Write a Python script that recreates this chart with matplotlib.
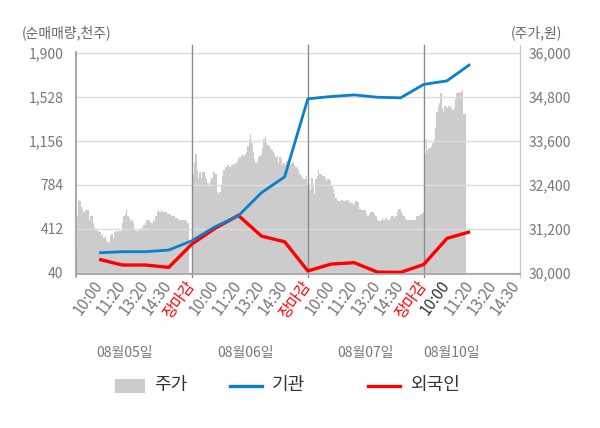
import matplotlib
matplotlib.use("Agg")
import matplotlib.pyplot as plt
from matplotlib.patches import Rectangle
from matplotlib.lines import Line2D
import numpy as np

plt.rcParams['font.family'] = ['Noto Sans CJK KR', 'DejaVu Sans']

# ---------------- data ----------------
tick_labels = ["10:00", "11:20", "13:20", "14:30", "장마감",
               "10:00", "11:20", "13:20", "14:30", "장마감",
               "10:00", "11:20", "13:20", "14:30", "장마감",
               "10:00", "11:20", "13:20", "14:30"]
day_labels = ["08월05일", "08월06일", "08월07일", "08월10일"]
series_names = ["주가", "기관", "외국인"]

# net buying (thousand shares) at each labelled time
inst = [209, 218, 218, 232, 311, 430, 522, 718, 853,
        1514, 1533, 1547, 1527, 1522, 1636, 1666, 1806]
foreign = [153, 105, 105, 85, 283, 416, 526, 350, 302,
           55, 113, 125, 45, 43, 110, 331, 387]

# intraday price (won)
price_d1 = [30650, 31550, 32000, 31950, 31800, 31750, 31650, 31700, 31700, 31700,
            31450, 31550, 31550, 31350, 31250, 31200, 31150, 31150, 31100, 31000,
            31050, 30950, 31000, 30900, 30850, 30800, 31000, 31050, 30950, 31100,
            31150, 31100, 31150, 31150, 31150, 31350, 31550, 31600, 31750, 31550,
            31500, 31400, 31450, 31350, 31200, 31150, 31150, 31150, 31200, 31250,
            31200, 31300, 31350, 31450, 31450, 31450, 31350, 31350, 31450, 31400,
            31550, 31650, 31700, 31650, 31700, 31650, 31650, 31650, 31650, 31600,
            31600, 31600, 31550, 31550, 31550, 31500, 31500, 31450, 31450, 31450,
            31450, 31450, 31450, 31400, 31350, 31250]
price_d2 = [32650, 32700, 33000, 33250, 32800, 32600, 32750, 32600, 32750, 32750,
            32650, 32550, 32450, 32400, 32500, 32600, 32750, 32750, 32700, 32200,
            32150, 32200, 32400, 32650, 32800, 32900, 32900, 32950, 32900, 32900,
            32950, 33000, 32950, 33000, 33050, 33100, 33150, 33200, 33250, 33200,
            33250, 33300, 33450, 33650, 33800, 33550, 33300, 33100, 33000, 33050,
            33150, 33200, 33250, 33400, 33650, 33750, 33550, 33500, 33450, 33400,
            33350, 33300, 33250, 33150, 33200, 33000, 33150, 33100, 32950, 33000,
            32950, 33050, 33050, 33050, 32950, 33000, 33050, 32950, 32900, 32850,
            32800, 32700, 32650, 32600, 32550, 32550, 32650, 32400]
price_d3 = [32350, 32350, 32250, 32600, 32350, 32150, 32550, 32650, 32800, 32700,
            32700, 32650, 32650, 32600, 32500, 32550, 32550, 32500, 32400, 32300,
            32150, 32050, 32000, 31950, 31950, 32000, 32000, 31950, 31950, 32000,
            32000, 31900, 31950, 31900, 31850, 31900, 31950, 31950, 31900, 31750,
            31700, 31700, 31700, 31700, 31600, 31550, 31600, 31650, 31650, 31650,
            31600, 31550, 31450, 31400, 31400, 31450, 31500, 31450, 31500, 31500,
            31450, 31450, 31500, 31550, 31550, 31500, 31550, 31650, 31750, 31750,
            31650, 31600, 31550, 31500, 31450, 31450, 31450, 31450, 31450, 31450,
            31450, 31450, 31550, 31550, 31550, 31600, 31600, 31650]
price_d4 = [33000, 33250, 33650, 33350, 33400, 33400, 33450, 33550, 33650, 33950,
            34400, 34550, 34650, 34900, 34500, 34400, 34550, 34550, 34500, 34550,
            34500, 34550, 34450, 34500, 34750, 34900, 34950, 34900, 34950, 35000,
            34350, 34350, 34350]

# ---------------- layout ----------------
W, H = 600, 428
fig = plt.figure(figsize=(W / 100, H / 100), dpi=100)
L, R, T, B = 76, 520, 51.7, 274
ax = fig.add_axes([L / W, 1 - B / H, (R - L) / W, (B - T) / H])
ax2 = ax.twinx()
ax.set_zorder(ax2.get_zorder() + 1)
ax.patch.set_visible(False)
ax2.patch.set_facecolor('#f4f4f4')

xmax = 19.15
ax.set_xlim(0, xmax)
ax2.set_xlim(0, xmax)
ax.set_ylim(29, 1913)
ax2.set_ylim(29964, 36041)

GREY, BLUE, RED = '#cccccc', '#0a7fcd', '#ff0000'

# price area
step = (4 / 3) / 23.19
for d, pr in enumerate([price_d1, price_d2, price_d3, price_d4]):
    xs = 5 * d + np.arange(len(pr)) * step
    ax2.fill_between(xs, 29964, pr, step='mid', color=GREY, lw=0, zorder=1)

# lines
xl = np.arange(1, len(inst) + 1)
ax.plot(xl, inst, color=BLUE, lw=2.0, zorder=5, solid_capstyle='butt')
ax.plot(xl, foreign, color=RED, lw=2.4, zorder=4, solid_capstyle='butt')

# grid
lticks = [40, 412, 784, 1156, 1528, 1900]
ax.set_yticks(lticks)
ax.set_yticklabels([f"{v:,}" for v in lticks])
for v in lticks:
    ax.axhline(v, color='#dcdcdc', lw=1, zorder=2)
rticks = [30000, 31200, 32400, 33600, 34800, 36000]
ax2.set_yticks(rticks)
ax2.set_yticklabels([f"{v:,}" for v in rticks])

# day separators
for xv in [5, 10, 15]:
    ax.axvline(xv, ymin=-0.015, ymax=1.032, color='#8c8c8c', lw=1, zorder=3, clip_on=False)

# spines
for a in (ax, ax2):
    for s in a.spines.values():
        s.set_visible(False)
ax.add_line(Line2D([0, 0], [-0.015, 1], transform=ax.transAxes, color='#999999', lw=1.2,
                   clip_on=False, zorder=6))
ax.add_line(Line2D([1, 1], [-0.015, 1.032], transform=ax.transAxes, color='#cccccc', lw=1,
                   clip_on=False, zorder=6))
ax.add_line(Line2D([0, 1], [0, 0], transform=ax.transAxes, color='#a0a0a0', lw=1.2,
                   clip_on=False, zorder=6))

ax.tick_params(axis='y', length=0, pad=9, labelsize=10, labelcolor='#777777')
ax2.tick_params(axis='y', length=0, pad=6, labelsize=10, labelcolor='#777777')

# x ticks (labels only)
ax.set_xticks(np.arange(1, len(tick_labels) + 1))
ax.set_xticklabels(tick_labels)
ax.tick_params(axis='x', length=0, pad=6, labelsize=11, labelcolor='#777777')
for i, lab in enumerate(ax.get_xticklabels()):
    lab.set_rotation(54)
    lab.set_ha('right')
    lab.set_va('center')
    lab.set_rotation_mode('anchor')
    if tick_labels[i] == "장마감":
        lab.set_color('#ff0000')
    elif i == 15:
        lab.set_color('#333333')
ax2.tick_params(axis='x', length=0, labelbottom=False)

# day labels
for xv, lab in zip([2.1, 7.3, 12.5, 16.2], day_labels):
    x_fig = (L + xv * 23.19) / W
    fig.text(x_fig, 1 - 353 / H, lab, ha='center', va='center', fontsize=10, color='#777777')

# axis titles
fig.text(22 / W, 1 - 33 / H, "(순매매량,천주)", ha='left', va='center', fontsize=10, color='#666666')
fig.text(562 / W, 1 - 33 / H, "(주가,원)", ha='right', va='center', fontsize=10, color='#666666')

# legend (manual)
ly = 1 - 385.5 / H
fig.add_artist(Rectangle((115 / W, 1 - 392.5 / H), 30 / W, 14 / H, transform=fig.transFigure,
                         facecolor=GREY, edgecolor='none'))
fig.add_artist(Line2D([230 / W, 262 / W], [ly, ly], transform=fig.transFigure, color=BLUE, lw=2.4))
fig.add_artist(Line2D([368 / W, 400 / W], [ly, ly], transform=fig.transFigure, color=RED, lw=2.4))
for xp, name in zip([154, 272, 410], series_names):
    fig.text(xp / W, 1 - 385 / H, name, ha='left', va='center', fontsize=13, color='#333333')

fig.savefig("out.png", dpi=100)
